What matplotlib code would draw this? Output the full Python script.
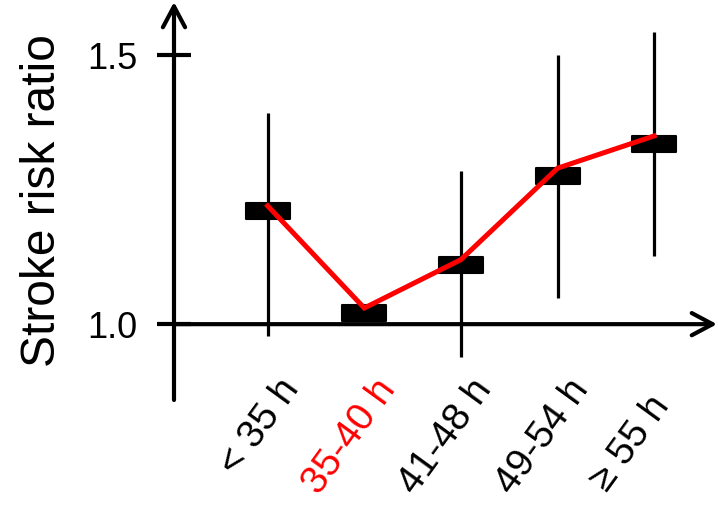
import matplotlib
matplotlib.use("Agg")
import matplotlib.pyplot as plt
import numpy as np
from matplotlib.path import Path
from matplotlib.markers import MarkerStyle
from matplotlib.transforms import ScaledTranslation

plt.rcParams['font.family'] = ['Liberation Sans', 'DejaVu Sans']

categories = ["< 35 h", "35-40 h", "41-48 h", "49-54 h", "\u2265 55 h"]
risk_ratio = [1.21, 1.02, 1.11, 1.275, 1.335]
ci_low = [0.978, np.nan, 0.939, 1.048, 1.126]
ci_high = [1.392, np.nan, 1.284, 1.50, 1.543]
trend = [1.22, 1.03, 1.12, 1.29, 1.35]
label_colors = ["black", "red", "black", "black", "black"]
yticks = [1.0, 1.5]
ytick_labels = ["1.0", "1.5"]

fig = plt.figure(figsize=(7.18, 5.09), dpi=100)
W, H = 718, 509
ax = fig.add_axes([174 / W, 109 / H, (717 - 174) / W, (507 - 109) / H])

x = np.arange(len(categories))

# error bars
lo = np.array(ci_low)
hi = np.array(ci_high)
ax.vlines(x, lo, hi, color="black", lw=2.3, zorder=2)

# rectangular markers with slightly rounded corners
rect = Path([(-1, -0.38), (1, -0.38), (1, 0.38), (-1, 0.38), (-1, -0.38)],
            [Path.MOVETO, Path.LINETO, Path.LINETO, Path.LINETO, Path.CLOSEPOLY])
ms = MarkerStyle(rect, joinstyle="round")
ax.plot(x, risk_ratio, linestyle="none", marker=ms, markersize=31,
        color="black", markeredgecolor="black", markeredgewidth=1.5, zorder=3)

# red trend line
ax.plot(x, trend, color="red", lw=3.6, zorder=4, solid_joinstyle="miter")

ax.set_xlim(-0.969, 4.65)
ax.set_ylim(0.859, 1.599)

for s in ["top", "right", "bottom", "left"]:
    ax.spines[s].set_visible(False)

# axes arrows
ax.annotate("", xy=(0, 1.0), xytext=(0, 0), xycoords="axes fraction",
            arrowprops=dict(arrowstyle="->,head_length=0.75,head_width=0.4",
                            lw=3, color="black", mutation_scale=20,
                            shrinkA=0, shrinkB=0))
ax.annotate("", xy=(1.0, 1.0), xytext=(0, 1.0),
            xycoords=("axes fraction", "data"),
            arrowprops=dict(arrowstyle="->,head_length=0.75,head_width=0.4",
                            lw=3, color="black", mutation_scale=20,
                            shrinkA=0, shrinkB=0))

ax.set_yticks(yticks)
ax.set_yticklabels(ytick_labels, fontsize=26)
ax.tick_params(axis="y", direction="inout", length=24.5, width=3, pad=14)

ax.set_xticks(x)
ax.set_xticklabels(categories, fontsize=28)
ax.tick_params(axis="x", length=0, pad=0)
offsets = [(24, 17), (24, 17), (24, 17), (24, 17), (8, 0)]
for lab, c, (dx, dy) in zip(ax.get_xticklabels(), label_colors, offsets):
    lab.set_color(c)
    lab.set_rotation(54)
    lab.set_rotation_mode("anchor")
    lab.set_ha("right")
    lab.set_va("center")
    lab.set_transform(lab.get_transform() + ScaledTranslation(dx / 100, dy / 100, fig.dpi_scale_trans))

ax.set_ylabel("Stroke risk ratio", fontsize=34.5)
ax.yaxis.set_label_coords(-0.20, 0.5)

fig.savefig("out.png", dpi=100)
